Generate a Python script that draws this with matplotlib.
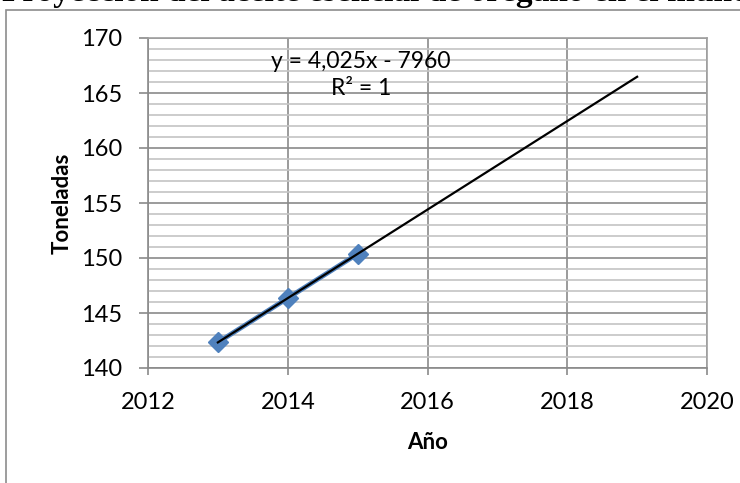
import matplotlib
matplotlib.use("Agg")
import matplotlib.pyplot as plt
from matplotlib.patches import Rectangle
from matplotlib.ticker import MultipleLocator
import numpy as np

# Production data (tonnes) and linear trend
years = [2013, 2014, 2015]
tonnes = [142.325, 146.35, 150.375]
slope = 4.025
intercept = -7960
trend_years = [2013, 2019]

title = "Proyección del aceite esencial de orégano en el mundo"
x_label = "Año"
y_label = "Toneladas"
eq_label = "y = 4,025x - 7960"
r2_label = "R² = 1"

W, H = 740, 483
fig = plt.figure(figsize=(W / 100, H / 100), dpi=100)
fig.patch.set_facecolor("white")

# Outer chart frame (runs past the right and bottom edges)
fig.patches.append(Rectangle((6 / W, -0.2), 1.2, 1 - 10 / H + 0.2,
                             transform=fig.transFigure, fill=False,
                             edgecolor="#8c8c8c", lw=1.2))

fig.text(2 / W, 1 - 1 / H, title, family="Liberation Serif", weight="bold",
         fontsize=24, ha="left", va="baseline")

ax = fig.add_axes([148 / W, 1 - 368 / H, (707 - 148) / W, 330 / H])
ax.set_xlim(2012, 2020)
ax.set_ylim(140, 170)
ax.xaxis.set_major_locator(MultipleLocator(2))
ax.yaxis.set_major_locator(MultipleLocator(5))
ax.yaxis.set_minor_locator(MultipleLocator(1))

ax.grid(which="major", axis="both", color="#8a8a8a", lw=1.2, zorder=0)
ax.grid(which="minor", axis="y", color="#c4c4c4", lw=1.2, zorder=0)
ax.set_axisbelow(True)

for s in ax.spines.values():
    s.set_color("#a0a0a0")
    s.set_linewidth(1.2)
ax.spines["left"].set_color("#8a8a8a")
ax.spines["bottom"].set_color("#8a8a8a")

ax.tick_params(which="major", width=1.2, color="#8a8a8a", labelsize=17)
ax.tick_params(axis="y", length=6.5, pad=12)
ax.tick_params(axis="x", length=5, pad=12)
ax.tick_params(which="minor", length=0)
for lab in ax.get_xticklabels() + ax.get_yticklabels():
    lab.set_family("Lato")

ax.plot(years, tonnes, color="#4f81bd", lw=3.5, marker="D", ms=10,
        markeredgecolor="#4f81bd", zorder=3)
tx = np.array(trend_years, dtype=float)
ax.plot(tx, slope * tx + intercept, color="black", lw=1.6, zorder=4)

ax.text(2015.05, 167.9, eq_label, family="Lato", fontsize=16.5, ha="center",
        va="center")
ax.text(2015.05, 165.4, r2_label, family="Lato", fontsize=16.5, ha="center",
        va="center")

ax.set_xlabel(x_label, family="Lato", weight="bold", fontsize=16, labelpad=14)
ax.set_ylabel(y_label, family="Lato", weight="bold", fontsize=16, labelpad=6)

fig.savefig("out.png", dpi=100)
